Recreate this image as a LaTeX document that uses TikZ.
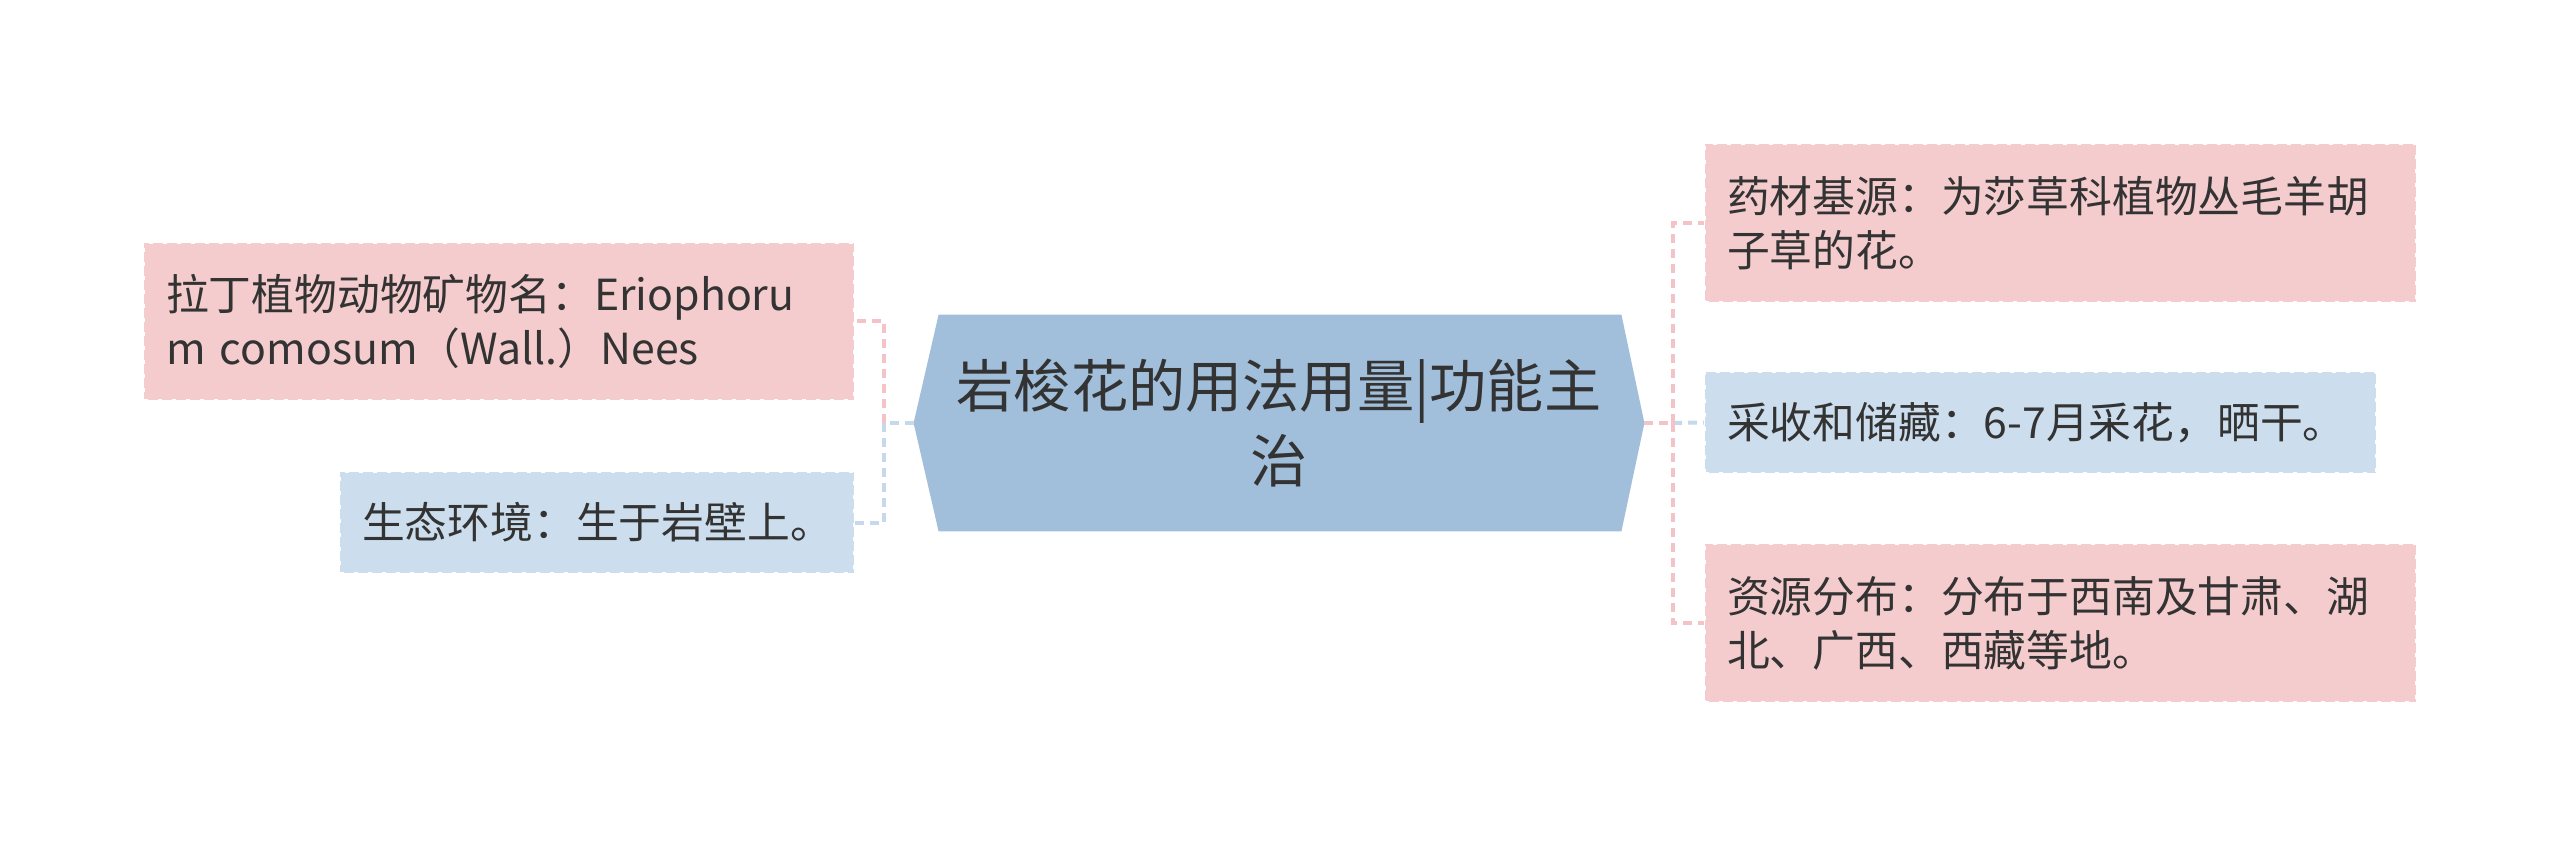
\documentclass[tikz,border=0pt]{standalone}
\usepackage{fontspec}
\setmainfont{Noto Sans CJK SC}
\usetikzlibrary{calc,backgrounds}
\definecolor{pinkfill}{HTML}{F5CCCE}
\definecolor{bluefill}{HTML}{CCDDED}
\definecolor{hexfill}{HTML}{A1BFDA}
\definecolor{pinkline}{HTML}{F4C3C7}
\definecolor{blueline}{HTML}{C6D9EC}
\definecolor{txt}{HTML}{333333}
\tikzset{
  leaf/.style={rectangle, draw=white, line width=1.2pt, dash pattern=on 2pt off 5pt,
    inner xsep=11pt, inner ysep=0pt, align=left, text=txt,
    font=\fontsize{21.4pt}{27pt}\selectfont},
  pinkleaf/.style={leaf, fill=pinkfill},
  blueleaf/.style={leaf, fill=bluefill},
  conn/.style={line width=2pt, dash pattern=on 4.5pt off 3pt},
  pinkconn/.style={conn, draw=pinkline},
  blueconn/.style={conn, draw=blueline},
  hexnode/.style={rectangle, inner sep=0pt, align=center, text=txt,
    font=\fontsize{28.6pt}{37.5pt}\selectfont}
}
\begin{document}
\begin{tikzpicture}[x=0.5pt,y=-0.5pt]
\useasboundingbox (0,0) rectangle (2560,845);

\node[hexnode, minimum width=365pt, minimum height=108pt] (hex) at (1279,423)
  {岩梭花的用法用量|功能主\\治};
\begin{scope}[on background layer]
  \fill[white] (0,0) rectangle (2560,845);
  \fill[hexfill] (hex.west) -- ($(hex.north west)+(25,0)$) -- ($(hex.north east)+(-23,0)$)
    -- (hex.east) -- ($(hex.south east)+(-23,0)$) -- ($(hex.south west)+(25,0)$) -- cycle;
\end{scope}

\node[pinkleaf, minimum width=355pt, minimum height=78.5pt, text width=333pt] (L1) at (499,321.5)
  {拉丁植物动物矿物名：Eriophoru\\m comosum（Wall.）Nees};
\node[blueleaf, minimum width=257pt, minimum height=50.5pt, text width=235pt] (L2) at (597,522.5)
  {生态环境：生于岩壁上。};
\node[pinkleaf, minimum width=355.5pt, minimum height=79pt, text width=333.5pt] (R1) at (2060.5,223)
  {药材基源：为莎草科植物丛毛羊胡\\子草的花。};
\node[blueleaf, minimum width=335.5pt, minimum height=50.5pt, text width=313.5pt] (R2) at (2040.5,422.5)
  {采收和储藏：6-7月采花，晒干。};
\node[pinkleaf, minimum width=355.5pt, minimum height=79pt, text width=333.5pt] (R3) at (2060.5,623)
  {资源分布：分布于西南及甘肃、湖\\北、广西、西藏等地。};

\coordinate (lsp) at (884,423);
\coordinate (rsp) at (1673,423);

\draw[blueconn] (hex.west) -- (lsp);
\draw[pinkconn] (lsp) |- (L1.east);
\draw[blueconn] (lsp) |- (L2.east);

\draw[blueconn] (rsp) -- (R2.west);
\draw[pinkconn] (rsp) |- (R1.west);
\draw[pinkconn] (rsp) |- (R3.west);
\draw[pinkconn] (hex.east) -- (rsp);
\end{tikzpicture}
\end{document}
